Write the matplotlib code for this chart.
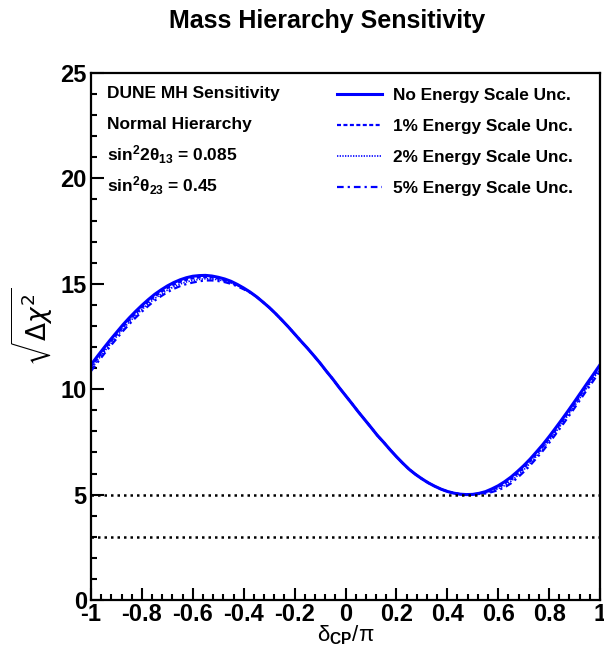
import matplotlib
matplotlib.use('Agg')
import matplotlib.pyplot as plt
import numpy as np

plt.rcParams['font.family'] = ['Liberation Sans', 'DejaVu Sans']
plt.rcParams['mathtext.fontset'] = 'custom'
plt.rcParams['mathtext.rm'] = 'Liberation Sans:bold'
plt.rcParams['mathtext.it'] = 'Liberation Sans:bold'
plt.rcParams['mathtext.bf'] = 'Liberation Sans:bold'

# delta_CP / pi
dcp = [-1.000, -0.975, -0.950, -0.925, -0.900, -0.875, -0.850, -0.825, -0.800, -0.775,
       -0.750, -0.725, -0.700, -0.675, -0.650, -0.625, -0.600, -0.575, -0.550, -0.525,
       -0.500, -0.475, -0.450, -0.425, -0.400, -0.375, -0.350, -0.325, -0.300, -0.275,
       -0.250, -0.225, -0.200, -0.175, -0.150, -0.125, -0.100, -0.075, -0.050, -0.025,
       0.000, 0.025, 0.050, 0.075, 0.100, 0.125, 0.150, 0.175, 0.200, 0.225,
       0.250, 0.275, 0.300, 0.325, 0.350, 0.375, 0.400, 0.425, 0.450, 0.475,
       0.500, 0.525, 0.550, 0.575, 0.600, 0.625, 0.650, 0.675, 0.700, 0.725,
       0.750, 0.775, 0.800, 0.825, 0.850, 0.875, 0.900, 0.925, 0.950, 0.975, 1.000]

no_unc = [11.16, 11.56, 11.95, 12.33, 12.69, 13.05, 13.38, 13.69, 13.98, 14.25,
          14.50, 14.71, 14.90, 15.06, 15.19, 15.29, 15.36, 15.39, 15.40, 15.37,
          15.31, 15.23, 15.12, 14.97, 14.80, 14.61, 14.39, 14.14, 13.88, 13.59,
          13.28, 12.96, 12.62, 12.28, 11.95, 11.60, 11.24, 10.85, 10.48, 10.08,
          9.70, 9.32, 8.93, 8.56, 8.19, 7.81, 7.48, 7.13, 6.80, 6.49,
          6.20, 5.96, 5.75, 5.56, 5.40, 5.26, 5.15, 5.07, 5.02, 5.00,
          5.01, 5.06, 5.14, 5.27, 5.42, 5.61, 5.83, 6.09, 6.37, 6.68,
          7.02, 7.37, 7.75, 8.15, 8.56, 8.98, 9.41, 9.85, 10.29, 10.72, 11.16]

unc_1 = [11.06, 11.46, 11.85, 12.23, 12.59, 12.95, 13.28, 13.59, 13.88, 14.15,
         14.40, 14.61, 14.80, 14.96, 15.09, 15.19, 15.26, 15.30, 15.32, 15.30,
         15.25, 15.18, 15.08, 14.94, 14.78, 14.60, 14.39, 14.14, 13.88, 13.59,
         13.28, 12.96, 12.62, 12.28, 11.95, 11.60, 11.24, 10.85, 10.48, 10.08,
         9.70, 9.32, 8.93, 8.56, 8.19, 7.81, 7.48, 7.13, 6.80, 6.49,
         6.20, 5.96, 5.75, 5.56, 5.40, 5.26, 5.15, 5.07, 5.02, 5.00,
         5.01, 5.05, 5.11, 5.22, 5.35, 5.52, 5.73, 5.99, 6.27, 6.58,
         6.92, 7.27, 7.65, 8.05, 8.46, 8.88, 9.31, 9.75, 10.19, 10.62, 11.06]

unc_2 = [10.96, 11.36, 11.75, 12.13, 12.49, 12.85, 13.18, 13.49, 13.78, 14.05,
         14.30, 14.51, 14.70, 14.86, 14.99, 15.09, 15.16, 15.21, 15.24, 15.23,
         15.19, 15.13, 15.04, 14.91, 14.76, 14.59, 14.39, 14.14, 13.88, 13.59,
         13.28, 12.96, 12.62, 12.28, 11.95, 11.60, 11.24, 10.85, 10.48, 10.08,
         9.70, 9.32, 8.93, 8.56, 8.19, 7.81, 7.48, 7.13, 6.80, 6.49,
         6.20, 5.96, 5.75, 5.56, 5.40, 5.26, 5.15, 5.07, 5.02, 5.00,
         5.01, 5.04, 5.08, 5.17, 5.28, 5.43, 5.63, 5.89, 6.17, 6.48,
         6.82, 7.17, 7.55, 7.95, 8.36, 8.78, 9.21, 9.65, 10.09, 10.52, 10.96]

unc_5 = [10.86, 11.26, 11.65, 12.03, 12.39, 12.75, 13.08, 13.39, 13.68, 13.95,
         14.20, 14.41, 14.60, 14.76, 14.89, 14.99, 15.06, 15.12, 15.16, 15.16,
         15.13, 15.08, 15.00, 14.88, 14.74, 14.58, 14.39, 14.14, 13.88, 13.59,
         13.28, 12.96, 12.62, 12.28, 11.95, 11.60, 11.24, 10.85, 10.48, 10.08,
         9.70, 9.32, 8.93, 8.56, 8.19, 7.81, 7.48, 7.13, 6.80, 6.49,
         6.20, 5.96, 5.75, 5.56, 5.40, 5.26, 5.15, 5.07, 5.02, 5.00,
         5.01, 5.03, 5.05, 5.12, 5.21, 5.34, 5.53, 5.79, 6.07, 6.38,
         6.72, 7.07, 7.45, 7.85, 8.26, 8.68, 9.11, 9.55, 9.99, 10.42, 10.86]

labels = ['No Energy Scale Unc.', '1% Energy Scale Unc.',
          '2% Energy Scale Unc.', '5% Energy Scale Unc.']
info = ['DUNE MH Sensitivity', 'Normal Hierarchy',
        r'sin$^{2}$2θ$_{13}$ = 0.085', r'sin$^{2}$θ$_{23}$ = 0.45']
sig_levels = [5, 3]

fig = plt.figure(figsize=(6.04, 6.55), dpi=100)
ax = fig.add_axes([0.1507, 0.084, 0.8427, 0.8045])

ax.plot(dcp, no_unc, color='#0000ff', lw=2.2, ls='-', label=labels[0])
ax.plot(dcp, unc_1, color='#0000ff', lw=1.6, ls=(0, (1.8, 1.1)), label=labels[1])
ax.plot(dcp, unc_2, color='#0000ff', lw=1.2, ls=(0, (0.8, 0.8)), label=labels[2])
ax.plot(dcp, unc_5, color='#0000ff', lw=1.6, ls=(0, (3, 1.8, 1, 1.8)), label=labels[3])

for s in sig_levels:
    ax.axhline(s, color='black', lw=1.8, ls=(0, (1, 1.6)))

ax.set_xlim(-1, 1)
ax.set_ylim(0, 25)
ax.set_xticks(np.arange(-1, 1.01, 0.2))
ax.set_xticklabels(['-1', '-0.8', '-0.6', '-0.4', '-0.2', '0', '0.2', '0.4', '0.6', '0.8', '1'])
ax.set_xticks(np.arange(-1, 1.001, 0.04), minor=True)
ax.set_yticks([0, 5, 10, 15, 20, 25])
ax.set_yticks(range(0, 26), minor=True)
ax.tick_params(which='both', direction='in', width=1.5, labelsize=17)
ax.tick_params(axis='x', pad=2)
ax.tick_params(axis='y', pad=3)
ax.tick_params(which='major', length=9)
ax.tick_params(which='minor', length=4.5)
for lab in ax.get_xticklabels() + ax.get_yticklabels():
    lab.set_fontweight('bold')
for sp in ax.spines.values():
    sp.set_linewidth(1.6)

ax.set_xlabel(r'δ$_{\mathbf{CP}}$/π', fontsize=16)
ax.xaxis.set_label_coords(0.5, -0.045)
ax.set_ylabel(r'$\sqrt{\Delta\chi^{2}}$', fontsize=19, math_fontfamily='dejavusans')
ax.yaxis.set_label_coords(-0.072, 0.518)
fig.suptitle('Mass Hierarchy Sensitivity', fontsize=18, fontweight='bold', x=0.541, y=0.987)

for i, t in enumerate(info):
    ax.text(0.031, 0.962 - i * 0.0588, t, transform=ax.transAxes, fontsize=12.5,
            fontweight='bold', va='center', ha='left')

leg = ax.legend(loc='upper left', bbox_to_anchor=(0.483, 0.972), frameon=False,
                prop={'size': 12.4, 'weight': 'bold'}, handlelength=2.61,
                handletextpad=0.64, labelspacing=0.93, borderaxespad=0, borderpad=0)

fig.savefig('out.png', dpi=100)
